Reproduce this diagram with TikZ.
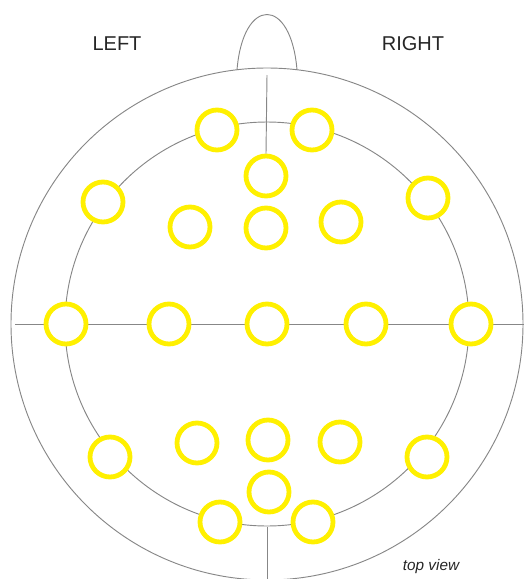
\documentclass[tikz,border=0pt]{standalone}
\usepackage{fontspec}
\setmainfont{Liberation Sans}
\definecolor{elecyellow}{RGB}{255,240,0}
\definecolor{headgray}{RGB}{135,135,135}
\tikzset{
  headline/.style={draw=headgray, line width=0.7pt},
  electrode/.style={circle, draw=elecyellow, fill=white, line width=3.6pt,
                    minimum size=30pt, inner sep=0pt},
  sidelabel/.style={font=\fontsize{15}{18}\selectfont, text=black!85}
}
\begin{document}
\begin{tikzpicture}[x=0.75pt,y=-0.75pt]

\useasboundingbox (0,0) rectangle (524,579);
\clip (0,0) rectangle (524,579);

\def\cx{267};
\def\cy{324};

% head, nose and the two rings
\draw[headline] (\cx,\cy) circle [radius=256];
\draw[headline] (\cx,\cy) circle [radius=202];
\draw[headline] (237,70) .. controls (243,-4) and (291,-4) .. (297,70);

% midlines
\coordinate (ltip) at (15,\cy);
\coordinate (rtip) at (524,\cy);
\coordinate (ttip) at (\cx,75);
\coordinate (btip) at (\cx,579);
\draw[headline] (ltip) -- (rtip);

% electrodes
\foreach \n/\x/\y in {fpa/217/130, fpb/312/130, fz/266/176,
                      fa/103/202, fb/428/198,
                      fc/190/227, fd/266/228, fe/341/222,
                      ta/66/\cy, ca/169/\cy, cz/267/\cy, cb/366/\cy, tb/471/\cy,
                      pa/110/457, pb/197/443, pz/268/440, pc/340/442, pd/427/457,
                      oz/269/492, oa/220/522, ob/313/522}{
       \node[electrode] (\n) at (\x,\y) {};
}

\draw[headline] (ttip) -- (fz.north);
\draw[headline] (btip) -- (\cx,527);

% labels
\node[sidelabel] (left) at (117,44) {LEFT};
\node[sidelabel] (right) at (413,44) {RIGHT};
\node[anchor=base, font=\fontsize{11.5}{14}\itshape, text=black!85] (view) at (431,570) {top view};

\end{tikzpicture}
\end{document}
